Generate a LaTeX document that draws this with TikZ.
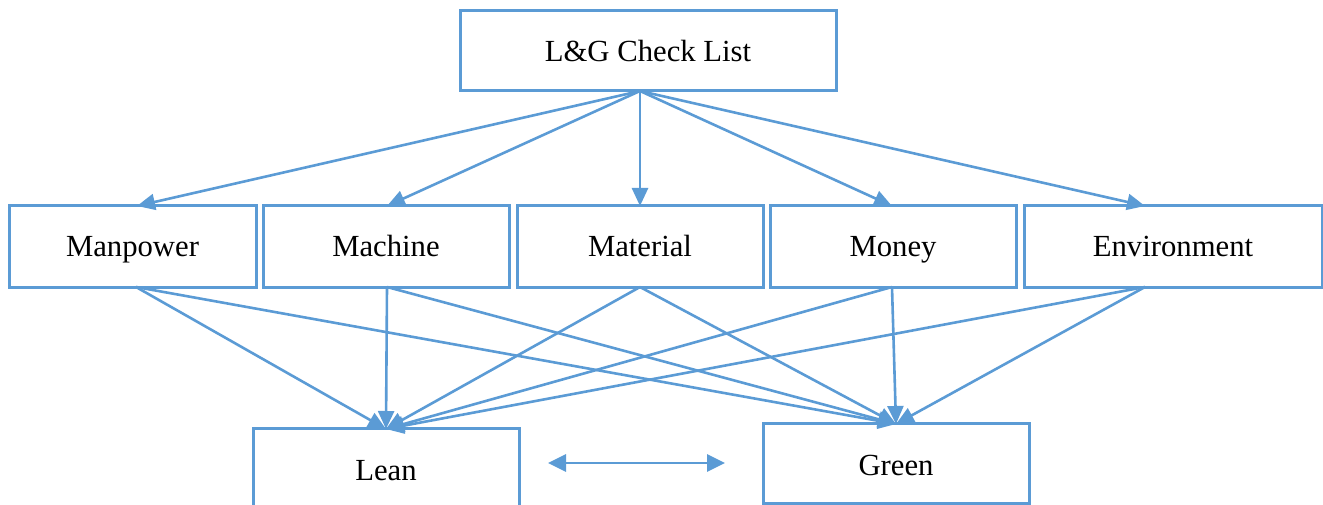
\documentclass[tikz,border=0pt]{standalone}
\usepackage{fontspec}
\setmainfont{Liberation Serif}
\usetikzlibrary{arrows.meta}
\definecolor{lineblue}{RGB}{91,155,213}
\begin{document}
\begin{tikzpicture}[x=1pt,y=-1pt,
  lbl/.style={font=\fontsize{30.7}{36}\selectfont,text=black,text height=21pt,text depth=0pt,inner sep=0pt},
  box/.style={lbl,draw=lineblue,line width=3pt,minimum height=80pt,outer sep=0pt},
  conn/.style={draw=lineblue,line width=2.6pt,-{Triangle[length=18pt,width=16pt]}},
  dconn/.style={draw=lineblue,line width=2.8pt,{Triangle[length=18pt,width=17pt]}-{Triangle[length=18pt,width=17pt]}}]
\useasboundingbox (0,0) rectangle (1323,505);
\begin{scope}
\clip (0,0) rectangle (1323,505);
\node[box,minimum width=376pt] (top) at (648,51) {L\&G Check List};
\node[box,minimum width=247pt,minimum height=81pt] (man) at (132.5,246.5) {Manpower};
\node[box,minimum width=246pt,minimum height=81pt] (mac) at (386,246.5) {Machine};
\node[box,minimum width=246pt,minimum height=81pt] (mat) at (640,246.5) {Material};
\node[box,minimum width=246pt,minimum height=81pt] (mon) at (893,246.5) {Money};
\node[box,minimum width=298pt,minimum height=81pt] (env) at (1173,246.5) {Environment};
\node[box,minimum width=266pt,minimum height=82pt] (lean) at (386,469) {};
\node[lbl] (leant) at (386,470) {Lean};
\node[box,minimum width=266pt] (green) at (896,463) {};
\node[lbl] (greent) at (896,465) {Green};

\coordinate (ts) at ([xshift=-8pt]top.south);
\coordinate (man-n) at ([xshift=4.5pt]man.north);
\coordinate (mac-n) at ([xshift=1pt]mac.north);
\coordinate (mat-n) at (mat.north);
\coordinate (mon-n) at ([xshift=-1pt]mon.north);
\coordinate (env-n) at ([xshift=-28pt]env.north);
\coordinate (man-s) at ([xshift=3.5pt]man.south);
\coordinate (mac-s) at ([xshift=1pt]mac.south);
\coordinate (mat-s) at (mat.south);
\coordinate (mon-s) at ([xshift=-1pt]mon.south);
\coordinate (env-s) at ([xshift=-28pt]env.south);
\coordinate (lean-in) at ([yshift=-1pt]lean.north);
\coordinate (green-in) at ([yshift=-1pt]green.north);
\coordinate (dl) at (548,463);
\coordinate (dr) at (725,463);

\foreach \t in {man-n,mac-n,mat-n,mon-n,env-n}
  \draw[conn] (ts) -- (\t);
\foreach \s in {man-s,mac-s,mat-s,mon-s,env-s}{
  \draw[conn] (\s) -- (lean-in);
  \draw[conn] (\s) -- (green-in);
}
\draw[dconn] (dl) -- (dr);
\end{scope}
\end{tikzpicture}
\end{document}
